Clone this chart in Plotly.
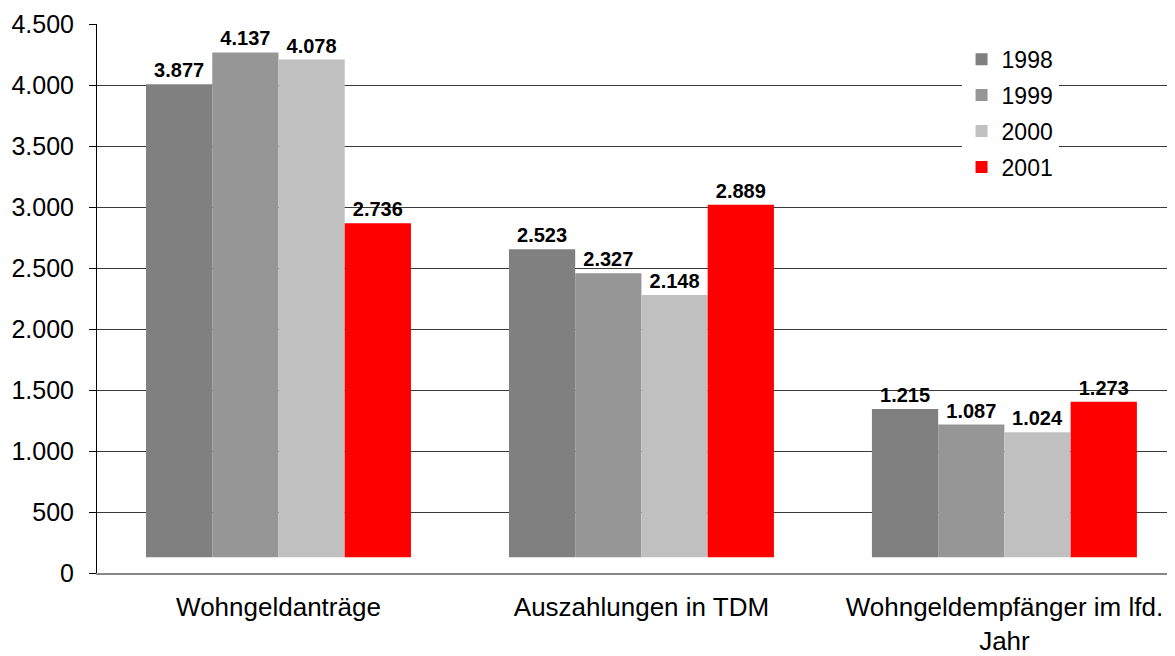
import plotly.graph_objects as go

# categories on the x axis
categories = ["Wohngeldanträge", "Auszahlungen in TDM", "Wohngeldempfänger im lfd.<br>Jahr"]

# one series per year
years = ["1998", "1999", "2000", "2001"]
values_1998 = [3877, 2523, 1215]
values_1999 = [4137, 2327, 1087]
values_2000 = [4078, 2148, 1024]
values_2001 = [2736, 2889, 1273]

colors = ["#808080", "#969696", "#c0c0c0", "#ff0000"]
# the original chart draws its bars slightly lifted above the zero line
bar_base = 130

FONT = "Liberation Sans, Arial, sans-serif"


def de_number(v):
    return f"{v:,}".replace(",", ".")


fig = go.Figure()
for year, vals, col in zip(years, [values_1998, values_1999, values_2000, values_2001], colors):
    fig.add_trace(
        go.Bar(
            x=categories,
            y=vals,
            base=bar_base,
            name=year,
            legendgroup=year,
            marker=dict(color=col, line=dict(width=0)),
            text=[de_number(v) for v in vals],
            textposition="outside",
            textfont=dict(family=FONT, size=20, color="black", weight="bold"),
            cliponaxis=False,
        )
    )

# page body has an 8px margin, so the figure is sized to what is left of the window
fig.update_layout(
    width=1167,
    height=648,
    margin=dict(l=89, r=0, t=16, b=83, autoexpand=False),
    paper_bgcolor="white",
    plot_bgcolor="white",
    barmode="group",
    bargap=0.27,
    bargroupgap=0,
    separators=",.",
    font=dict(family=FONT, size=25, color="black"),
    xaxis=dict(
        range=[-0.5, 2.47],
        automargin=False,
        showline=True,
        linecolor="#888888",
        linewidth=2,
        showgrid=False,
        ticks="",
        tickfont=dict(size=26, color="black"),
        ticklabelstandoff=10,
    ),
    yaxis=dict(
        range=[0, 4500],
        dtick=500,
        tickformat=",d",
        automargin=False,
        showline=True,
        linecolor="black",
        linewidth=1,
        ticks="outside",
        ticklen=7,
        tickcolor="black",
        showgrid=True,
        gridcolor="#3a3a3a",
        gridwidth=1,
        zeroline=False,
        tickfont=dict(size=25, color="black"),
        ticklabelstandoff=10,
    ),
    legend=dict(
        x=0.802,
        y=0.975,
        xanchor="left",
        yanchor="top",
        bgcolor="white",
        font=dict(size=23, color="black"),
        tracegroupgap=3,
        itemwidth=30,
    ),
)

fig.write_html("out.html")
